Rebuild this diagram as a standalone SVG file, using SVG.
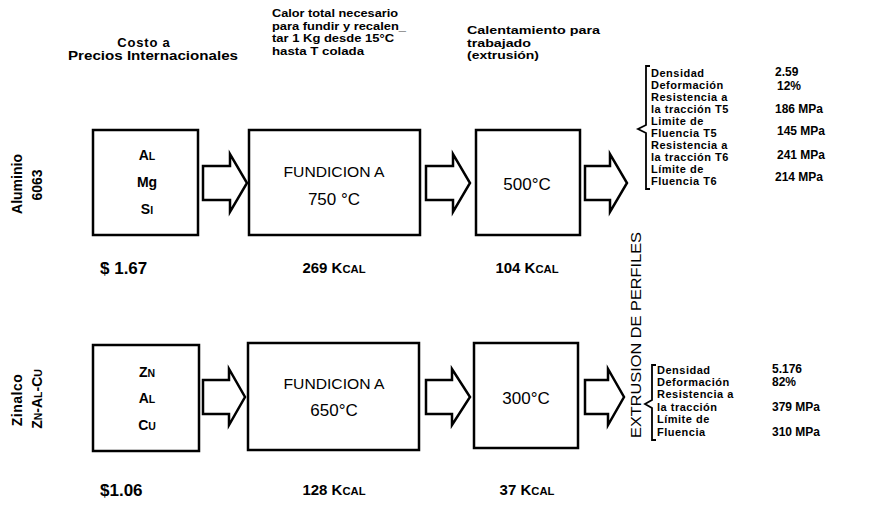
<svg xmlns="http://www.w3.org/2000/svg" width="890" height="510" viewBox="0 0 890 510">
<style>
.b{font-family:"Liberation Sans",Arial,sans-serif;font-weight:bold;fill:#000}
.r{font-family:"Liberation Sans",Arial,sans-serif;fill:#000}
.box{fill:none;stroke:#000;stroke-width:2.5}
.arr{fill:#fff;stroke:#000;stroke-width:2.5;stroke-linejoin:miter}
.br{fill:none;stroke:#000;stroke-width:1.8}
.sm{font-size:0.75em}
.pl{font-size:11px;letter-spacing:0.5px}
.pv{font-size:12px}
.hd{font-size:11.5px}
</style>
<rect width="890" height="510" fill="#fff"/>
<!-- headers -->
<g id="hdr-costo">
<text class="b" x="144" y="47" font-size="13" text-anchor="middle" letter-spacing="0.8">Costo a</text>
<text class="b" x="153" y="60" font-size="12" text-anchor="middle" textLength="170" lengthAdjust="spacingAndGlyphs">Precios Internacionales</text>
</g>
<g id="hdr-calor" class="b">
<text class="hd" x="272" y="17" textLength="126" lengthAdjust="spacingAndGlyphs">Calor total necesario</text>
<text class="hd" x="272" y="29.5" textLength="134" lengthAdjust="spacingAndGlyphs">para fundir y recalen_</text>
<text class="hd" x="272" y="42" textLength="122" lengthAdjust="spacingAndGlyphs">tar 1 Kg desde 15°C</text>
<text class="hd" x="272" y="54.5" textLength="92" lengthAdjust="spacingAndGlyphs">hasta T colada</text>
</g>
<g id="hdr-calent" class="b">
<text class="hd" x="467" y="34" textLength="133" lengthAdjust="spacingAndGlyphs">Calentamiento para</text>
<text class="hd" x="467" y="46.5" textLength="64" lengthAdjust="spacingAndGlyphs">trabajado</text>
<text class="hd" x="467" y="59" textLength="72" lengthAdjust="spacingAndGlyphs">(extrusión)</text>
</g>
<!-- side labels -->
<g id="lbl-aluminio" class="b" font-size="14">
<text transform="translate(22,184) rotate(-90)" text-anchor="middle">Aluminio</text>
<text transform="translate(42,185) rotate(-90)" text-anchor="middle">6063</text>
</g>
<g id="lbl-zinalco" class="b" font-size="14">
<text transform="translate(22,400) rotate(-90)" text-anchor="middle" letter-spacing="0.5">Zinalco</text>
<text transform="translate(42,399) rotate(-90)" text-anchor="middle">Z<tspan class="sm">N</tspan>-A<tspan class="sm">L</tspan>-C<tspan class="sm">U</tspan></text>
</g>
<!-- row 1 -->
<g id="n-al-comp">
<rect class="box" x="93" y="130" width="105" height="105"/>
<text class="b" x="147" y="160" font-size="14" text-anchor="middle">A<tspan class="sm">L</tspan></text>
<text class="b" x="147" y="187" font-size="14" text-anchor="middle">Mg</text>
<text class="b" x="147" y="214" font-size="14" text-anchor="middle">S<tspan class="sm">I</tspan></text>
</g>
<g id="n-al-fund">
<rect class="box" x="249" y="130" width="171" height="105"/>
<text class="r" x="334" y="177" font-size="15" text-anchor="middle" textLength="101" lengthAdjust="spacingAndGlyphs">FUNDICION A</text>
<text class="r" x="334" y="205" font-size="17" text-anchor="middle">750 °C</text>
</g>
<g id="n-al-calent">
<rect class="box" x="476" y="130" width="104" height="105"/>
<text class="r" x="527" y="190" font-size="17" text-anchor="middle">500°C</text>
</g>
<g id="n-al-cost">
<text class="b" x="100" y="274" font-size="17">$ 1.67</text>
<text class="b" x="334" y="273" font-size="15" text-anchor="middle">269 K<tspan class="sm">CAL</tspan></text>
<text class="b" x="527" y="273" font-size="15" text-anchor="middle">104 K<tspan class="sm">CAL</tspan></text>
</g>
<g id="n-al-props" class="b">
<text class="pl" x="651" y="77">Densidad</text>
<text class="pl" x="651" y="89">Deformación</text>
<text class="pl" x="651" y="101">Resistencia a</text>
<text class="pl" x="651" y="113">la tracción T5</text>
<text class="pl" x="651" y="125">Limite de</text>
<text class="pl" x="651" y="137">Fluencia T5</text>
<text class="pl" x="651" y="149">Resistencia a</text>
<text class="pl" x="651" y="161">la tracción T6</text>
<text class="pl" x="651" y="173">Límite de</text>
<text class="pl" x="651" y="185">Fluencia T6</text>
<text class="pv" x="775" y="76" font-size="13">2.59</text>
<text class="pv" x="777" y="90" font-size="13">12%</text>
<text class="pv" x="775" y="113">186 MPa</text>
<text class="pv" x="777" y="135">145 MPa</text>
<text class="pv" x="777" y="159">241 MPa</text>
<text class="pv" x="775" y="181">214 MPa</text>
</g>
<!-- row 2 -->
<g id="n-zn-comp">
<rect class="box" x="93" y="345" width="106" height="106"/>
<text class="b" x="147" y="377" font-size="14" text-anchor="middle">Z<tspan class="sm">N</tspan></text>
<text class="b" x="147" y="403" font-size="14" text-anchor="middle">A<tspan class="sm">L</tspan></text>
<text class="b" x="147" y="430" font-size="14" text-anchor="middle">C<tspan class="sm">U</tspan></text>
</g>
<g id="n-zn-fund">
<rect class="box" x="248" y="343" width="171" height="107"/>
<text class="r" x="334" y="389" font-size="15" text-anchor="middle" textLength="101" lengthAdjust="spacingAndGlyphs">FUNDICION A</text>
<text class="r" x="334" y="416" font-size="17" text-anchor="middle">650°C</text>
</g>
<g id="n-zn-calent">
<rect class="box" x="474" y="343" width="104" height="105"/>
<text class="r" x="526" y="404" font-size="17" text-anchor="middle">300°C</text>
</g>
<g id="n-zn-cost">
<text class="b" x="100" y="496" font-size="17">$1.06</text>
<text class="b" x="334" y="495" font-size="15" text-anchor="middle">128 K<tspan class="sm">CAL</tspan></text>
<text class="b" x="527" y="495" font-size="15" text-anchor="middle">37 K<tspan class="sm">CAL</tspan></text>
</g>
<g id="n-zn-props" class="b">
<text class="pl" x="657" y="374">Densidad</text>
<text class="pl" x="657" y="386">Deformación</text>
<text class="pl" x="657" y="398">Resistencia a</text>
<text class="pl" x="657" y="411">la tracción</text>
<text class="pl" x="657" y="423">Límite de</text>
<text class="pl" x="657" y="436">Fluencia</text>
<text class="pv" x="772" y="373">5.176</text>
<text class="pv" x="772" y="386">82%</text>
<text class="pv" x="772" y="411">379 MPa</text>
<text class="pv" x="772" y="436">310 MPa</text>
</g>
<g id="n-extrusion">
<text class="r" transform="translate(641,335) rotate(-90)" font-size="14" text-anchor="middle" textLength="206" lengthAdjust="spacingAndGlyphs">EXTRUSION DE PERFILES</text>
</g>
<!-- connectors -->
<g id="connectors">
<path class="arr" d="M203,166 H230 V154 L247,183 L230,212 V200 H203 Z"/>
<path class="arr" d="M426,166 H453 V154 L470,183 L453,212 V200 H426 Z"/>
<path class="arr" d="M585,166 H610 V154 L627,183 L610,212 V200 H585 Z"/>
<path class="arr" d="M203,380 H229 V369 L245,397 L229,425 V414 H203 Z"/>
<path class="arr" d="M426,380 H452 V369 L470,397 L452,425 V414 H426 Z"/>
<path class="arr" d="M585,380 H608 V369 L624,397 L608,425 V414 H585 Z"/>
<path class="br" d="M650,66 H646 V125 L638,129 L646,133 V189 H650"/>
<path class="br" d="M656,365 H652 V400 L645,404 L652,408 V440 H656"/>
</g>
</svg>
